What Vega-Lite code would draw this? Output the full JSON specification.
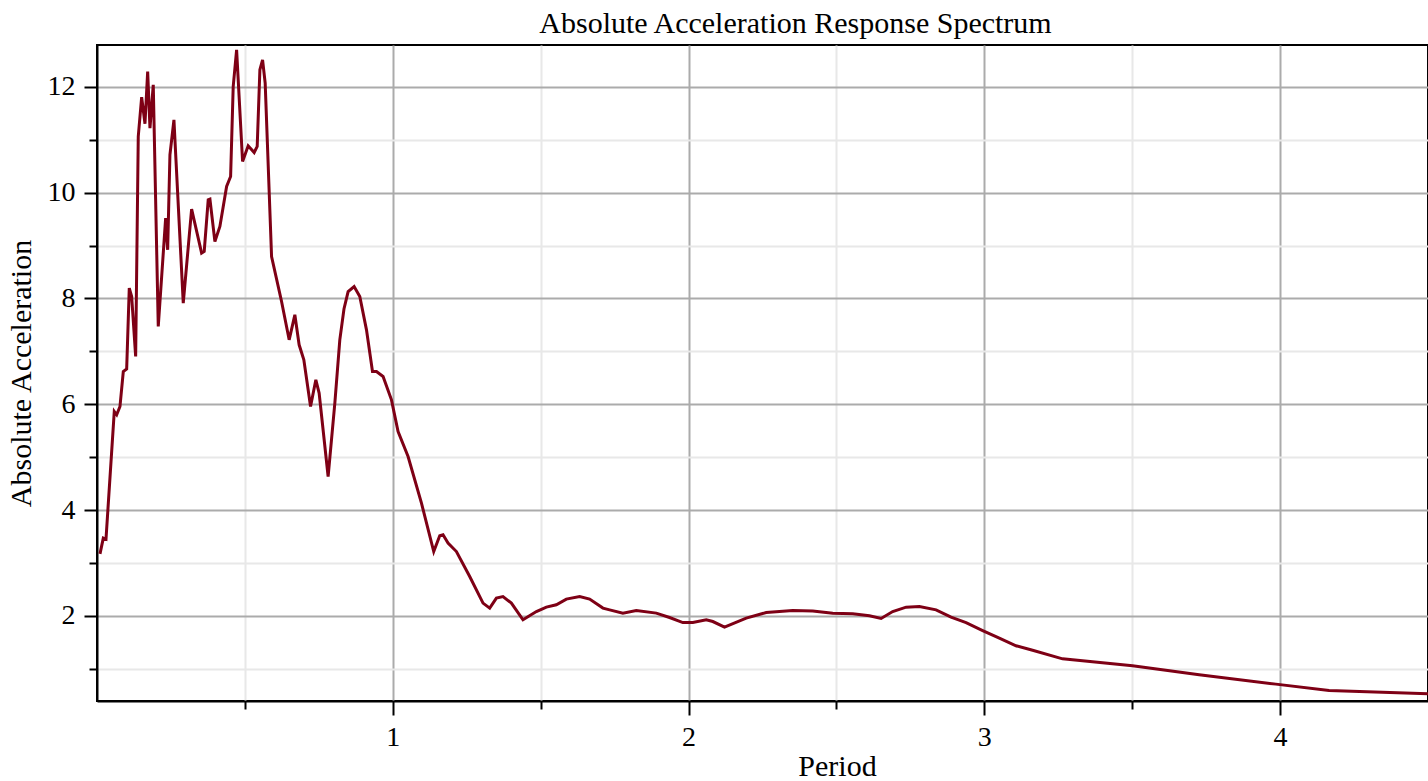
{
  "$schema": "https://vega.github.io/schema/vega-lite/v6.json",
  "autosize": {"type": "none"},
  "width": 1331,
  "height": 656,
  "padding": {"left": 97, "top": 45, "right": 0, "bottom": 80},
  "background": "white",
  "title": {"text": "Absolute Acceleration Response Spectrum", "font": "Liberation Serif", "fontSize": 30, "fontWeight": "normal", "color": "black", "anchor": "middle", "dx": 33, "offset": 6},
  "config": {
    "view": {"stroke": "black", "strokeWidth": 2},
    "axis": {"labelFont": "Liberation Serif", "titleFont": "Liberation Serif", "labelFontSize": 28, "titleFontSize": 30, "titleFontWeight": "normal", "labelColor": "black", "titleColor": "black", "domainColor": "black", "domainWidth": 2, "tickColor": "black", "tickWidth": 2, "gridWidth": 2}
  },
  "data": {"values": [
    {"period": 0.0101, "acc": 3.172},
    {"period": 0.0213, "acc": 3.469},
    {"period": 0.0304, "acc": 3.450},
    {"period": 0.0584, "acc": 5.862},
    {"period": 0.0666, "acc": 5.800},
    {"period": 0.0777, "acc": 5.957},
    {"period": 0.0889, "acc": 6.618},
    {"period": 0.1003, "acc": 6.664},
    {"period": 0.1091, "acc": 8.195},
    {"period": 0.1172, "acc": 8.036},
    {"period": 0.1307, "acc": 6.902},
    {"period": 0.1395, "acc": 11.061},
    {"period": 0.1510, "acc": 11.805},
    {"period": 0.1622, "acc": 11.301},
    {"period": 0.1713, "acc": 12.289},
    {"period": 0.1791, "acc": 11.219},
    {"period": 0.1902, "acc": 12.038},
    {"period": 0.2071, "acc": 7.469},
    {"period": 0.2321, "acc": 9.518},
    {"period": 0.2389, "acc": 8.919},
    {"period": 0.2466, "acc": 10.715},
    {"period": 0.2601, "acc": 11.376},
    {"period": 0.2916, "acc": 7.911},
    {"period": 0.3199, "acc": 9.688},
    {"period": 0.3537, "acc": 8.856},
    {"period": 0.3625, "acc": 8.887},
    {"period": 0.3760, "acc": 9.864},
    {"period": 0.3818, "acc": 9.877},
    {"period": 0.3986, "acc": 9.076},
    {"period": 0.4155, "acc": 9.359},
    {"period": 0.4382, "acc": 10.115},
    {"period": 0.4517, "acc": 10.304},
    {"period": 0.4605, "acc": 12.006},
    {"period": 0.4720, "acc": 12.699},
    {"period": 0.4922, "acc": 10.588},
    {"period": 0.5111, "acc": 10.885},
    {"period": 0.5314, "acc": 10.758},
    {"period": 0.5416, "acc": 10.872},
    {"period": 0.5507, "acc": 12.321},
    {"period": 0.5598, "acc": 12.510},
    {"period": 0.5686, "acc": 12.070},
    {"period": 0.5902, "acc": 8.792},
    {"period": 0.6240, "acc": 7.941},
    {"period": 0.6497, "acc": 7.217},
    {"period": 0.6689, "acc": 7.690},
    {"period": 0.6834, "acc": 7.123},
    {"period": 0.6993, "acc": 6.839},
    {"period": 0.7220, "acc": 5.957},
    {"period": 0.7399, "acc": 6.461},
    {"period": 0.7510, "acc": 6.210},
    {"period": 0.7814, "acc": 4.633},
    {"period": 0.8041, "acc": 6.021},
    {"period": 0.8209, "acc": 7.217},
    {"period": 0.8350, "acc": 7.800},
    {"period": 0.8490, "acc": 8.130},
    {"period": 0.8693, "acc": 8.225},
    {"period": 0.8885, "acc": 8.036},
    {"period": 0.9111, "acc": 7.406},
    {"period": 0.9314, "acc": 6.618},
    {"period": 0.9449, "acc": 6.618},
    {"period": 0.9672, "acc": 6.524},
    {"period": 0.9956, "acc": 6.083},
    {"period": 1.0179, "acc": 5.484},
    {"period": 1.0517, "acc": 5.011},
    {"period": 1.0970, "acc": 4.130},
    {"period": 1.1385, "acc": 3.215},
    {"period": 1.1588, "acc": 3.512},
    {"period": 1.1699, "acc": 3.531},
    {"period": 1.1868, "acc": 3.374},
    {"period": 1.2152, "acc": 3.215},
    {"period": 1.2601, "acc": 2.743},
    {"period": 1.3051, "acc": 2.240},
    {"period": 1.3277, "acc": 2.146},
    {"period": 1.3503, "acc": 2.335},
    {"period": 1.3726, "acc": 2.365},
    {"period": 1.4010, "acc": 2.240},
    {"period": 1.4402, "acc": 1.924},
    {"period": 1.4855, "acc": 2.081},
    {"period": 1.5193, "acc": 2.164},
    {"period": 1.5530, "acc": 2.208},
    {"period": 1.5868, "acc": 2.316},
    {"period": 1.6318, "acc": 2.365},
    {"period": 1.6655, "acc": 2.316},
    {"period": 1.7105, "acc": 2.146},
    {"period": 1.7331, "acc": 2.113},
    {"period": 1.7780, "acc": 2.051},
    {"period": 1.8233, "acc": 2.100},
    {"period": 1.8909, "acc": 2.051},
    {"period": 1.9358, "acc": 1.968},
    {"period": 1.9807, "acc": 1.873},
    {"period": 2.0145, "acc": 1.873},
    {"period": 2.0598, "acc": 1.924},
    {"period": 2.0821, "acc": 1.892},
    {"period": 2.1216, "acc": 1.786},
    {"period": 2.1949, "acc": 1.957},
    {"period": 2.2625, "acc": 2.062},
    {"period": 2.3524, "acc": 2.100},
    {"period": 2.4199, "acc": 2.089},
    {"period": 2.4875, "acc": 2.051},
    {"period": 2.5551, "acc": 2.038},
    {"period": 2.6115, "acc": 2.000},
    {"period": 2.6510, "acc": 1.949},
    {"period": 2.6902, "acc": 2.081},
    {"period": 2.7355, "acc": 2.164},
    {"period": 2.7804, "acc": 2.176},
    {"period": 2.8368, "acc": 2.113},
    {"period": 2.8875, "acc": 1.975},
    {"period": 2.9382, "acc": 1.873},
    {"period": 2.9943, "acc": 1.722},
    {"period": 3.0507, "acc": 1.578},
    {"period": 3.1071, "acc": 1.433},
    {"period": 3.1632, "acc": 1.348},
    {"period": 3.2645, "acc": 1.187},
    {"period": 3.5010, "acc": 1.055},
    {"period": 3.7264, "acc": 0.885},
    {"period": 3.9855, "acc": 0.709},
    {"period": 4.1655, "acc": 0.588},
    {"period": 4.5000, "acc": 0.525}
  ]},
  "mark": {"type": "line", "color": "#7e0015", "strokeWidth": 3, "clip": true},
  "encoding": {
    "x": {
      "field": "period", "type": "quantitative", "title": "Period",
      "scale": {"domain": [0, 4.5], "nice": false, "zero": false},
      "axis": {
        "values": [0.5, 1, 1.5, 2, 2.5, 3, 3.5, 4],
        "labelExpr": "datum.value % 1 === 0 ? format(datum.value, 'd') : ''",
        "gridColor": {"condition": {"test": "datum.value % 1 === 0", "value": "#ababab"}, "value": "#e8e8e8"},
        "tickSize": {"condition": {"test": "datum.value % 1 === 0", "value": 14}, "value": 8},
        "labelPadding": 8,
        "titlePadding": 0,
        "titleX": 740
      }
    },
    "y": {
      "field": "acc", "type": "quantitative", "title": "Absolute Acceleration",
      "scale": {"domain": [0.39, 12.79], "nice": false, "zero": false},
      "axis": {
        "values": [1, 2, 3, 4, 5, 6, 7, 8, 9, 10, 11, 12],
        "labelExpr": "datum.value % 2 === 0 ? datum.label : ''",
        "gridColor": {"condition": {"test": "datum.value % 2 === 0", "value": "#ababab"}, "value": "#e8e8e8"},
        "tickSize": {"condition": {"test": "datum.value % 2 === 0", "value": 13}, "value": 8},
        "labelPadding": 9,
        "titlePadding": 11
      }
    }
  }
}
